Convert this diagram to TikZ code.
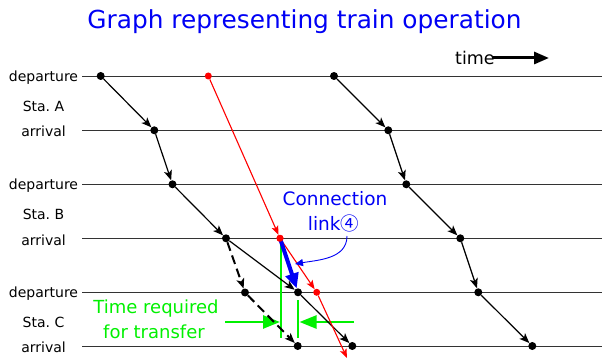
\documentclass[tikz,border=0pt]{standalone}
\usepackage{fontspec}
\setmainfont{DejaVu Sans}
\newfontfamily\cjkfont{Noto Sans CJK JP}
\usetikzlibrary{arrows.meta}
\definecolor{gr}{RGB}{0,240,0}
\definecolor{bl}{RGB}{0,0,245}
\begin{document}
\begin{tikzpicture}[x=1pt,y=-1pt,
  hline/.style={draw=black!80, line width=0.9pt},
  lab/.style={font=\fontsize{14}{16}\selectfont, anchor=base, inner sep=0pt},
  bdot/.style={circle, fill=black, inner sep=0pt, minimum size=8pt},
  rdot/.style={circle, fill=red, inner sep=0pt, minimum size=7pt},
  run/.style={black, line width=1.2pt, -{Stealth[length=10pt,width=8pt,inset=2.5pt]}},
  rrun/.style={red, line width=1.1pt, -{Stealth[length=9pt,width=7pt,inset=2pt]}},
  drun/.style={black, line width=2pt, dash pattern=on 9pt off 5pt, -{Stealth[length=10pt,width=8pt,inset=2.5pt]}},
  gline/.style={gr, line width=2.5pt},
  garrow/.style={gr, line width=2.5pt, -{Triangle[length=17pt,width=13pt]}},
  btxt/.style={font=\fontsize{18.5}{22}\selectfont, text=bl, anchor=base, inner sep=0pt},
  gtxt/.style={font=\fontsize{18}{22}\selectfont, text=gr, anchor=base, inner sep=0pt}
]
\useasboundingbox (0,0) rectangle (602,358);

% title
\node[font=\fontsize{24.8}{30}\selectfont, text=bl, anchor=base, inner sep=0pt] (title) at (304.5,29) {Graph representing train operation};

% time arrow
\node[font=\fontsize{17.5}{20}\selectfont, anchor=base west, inner sep=0pt] (timelab) at (455,65) {time};
\coordinate (tA) at (493,58);
\coordinate (tB) at (549,58);
\draw[line width=3pt, -{Triangle[length=15pt,width=12pt]}] (tA) -- (tB);

% station lines
\draw[hline] (82,76) -- (602,76);
\draw[hline] (82,130.3) -- (602,130.3);
\draw[hline] (82,184.3) -- (602,184.3);
\draw[hline] (82,238.3) -- (602,238.3);
\draw[hline] (82,292.3) -- (602,292.3);
\draw[hline] (82,346) -- (602,346);

% labels
\node[lab] (depA) at (43.5,81.5) {departure};
\node[lab] (staA) at (43.5,112) {Sta.\ A};
\node[lab] (arrA) at (43.5,136.5) {arrival};
\node[lab] (depB) at (43.5,189.5) {departure};
\node[lab] (staB) at (43.5,219.5) {Sta.\ B};
\node[lab] (arrB) at (43.5,245) {arrival};
\node[lab] (depC) at (43.5,297.5) {departure};
\node[lab] (staC) at (43.5,327.5) {Sta.\ C};
\node[lab] (arrC) at (43.5,352.5) {arrival};

% dots
\node[bdot] (a1) at (100.7,76) {};
\node[bdot] (a2) at (154.3,130.3) {};
\node[bdot] (a3) at (172.5,184.3) {};
\node[bdot] (a4) at (226,238.3) {};
\node[bdot] (a5) at (298,292.3) {};
\node[bdot] (a6) at (352.3,346) {};
\node[bdot] (d5) at (245,292.5) {};
\node[bdot] (d6) at (297.7,346) {};
\node[bdot] (c1) at (334,76) {};
\node[bdot] (c2) at (388.3,130.3) {};
\node[bdot] (c3) at (406.3,184.3) {};
\node[bdot] (c4) at (460.3,238.3) {};
\node[bdot] (c5) at (478.3,292.3) {};
\node[bdot] (c6) at (532.3,346) {};
\node[rdot] (r1) at (208.3,76) {};
\node[rdot] (r2) at (280,238.3) {};
\node[rdot] (r3) at (316.7,292.3) {};
\coordinate (r4) at (347,358);

% green transfer time
\coordinate (g1a) at (281,240);
\coordinate (g1b) at (281,338);
\coordinate (g2a) at (298,300);
\coordinate (g2b) at (298,337.5);
\coordinate (gl) at (225,322);
\coordinate (glt) at (280,322);
\coordinate (grr) at (354,322);
\coordinate (grt) at (299.5,322);
\draw[gline] (g1a) -- (g1b);
\draw[gline] (g2a) -- (g2b);
\draw[garrow] (gl) -- (glt);
\draw[garrow] (grr) -- (grt);
\node[gtxt] (gt1) at (156,313) {Time required};
\node[gtxt] (gt2) at (154,338) {for transfer};

% trains
\draw[run] (a1) -- (a2);
\draw[run] (a2) -- (a3);
\draw[run] (a3) -- (a4);
\draw[run] (a4) -- (a5);
\draw[run] (a5) -- (a6);
\draw[drun] (a4) -- (d5);
\draw[drun] (d5) -- (d6);
\draw[run] (c1) -- (c2);
\draw[run] (c2) -- (c3);
\draw[run] (c3) -- (c4);
\draw[run] (c4) -- (c5);
\draw[run] (c5) -- (c6);
\draw[rrun] (r1) -- (r2);
\draw[rrun] (r2) -- (r3);
\draw[rrun] (r3) -- (r4);

% connection link
\draw[bl, line width=4pt, -{Triangle[length=15pt,width=13pt]}] (r2.center) -- (a5);
\node[btxt] (conn1) at (335,205) {Connection};
\node[btxt] (conn2) at (333.5,230) {link{\cjkfont ④}};
\coordinate (cb) at (347,236);
\coordinate (ct) at (295,264);
\draw[bl, line width=0.9pt, -{Triangle[length=8pt,width=7pt]}] (cb) to[out=-90, in=10] (ct);

% redraw dot on top
\node[rdot] at (r2) {};
\end{tikzpicture}
\end{document}
